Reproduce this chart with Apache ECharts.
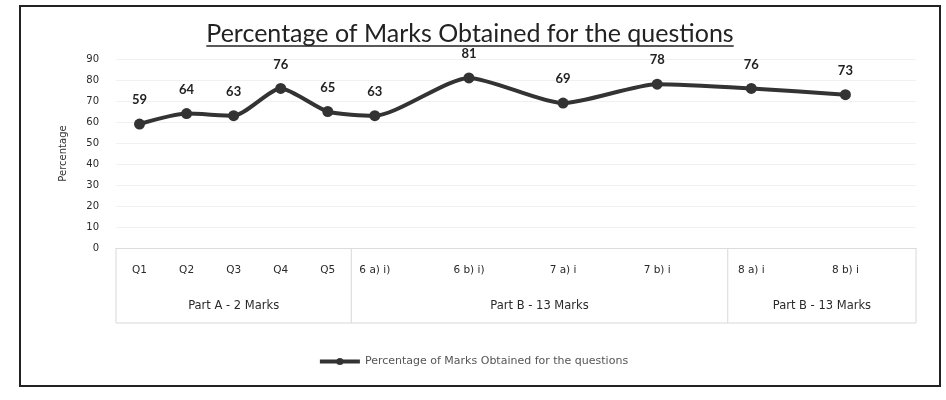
<!DOCTYPE html>
<html>
<head>
<meta charset="utf-8">
<script src="https://cdn.jsdelivr.net/npm/echarts@6/dist/echarts.min.js"></script>
<style>html,body{margin:0;padding:0;background:#fff}#c{width:946px;height:400px}</style>
</head>
<body>
<div id="c"></div>
<script>
const titleText = 'Percentage of Marks Obtained for the questions';
const seriesName = 'Percentage of Marks Obtained for the questions';
const categories = ['Q1','Q2','Q3','Q4','Q5','6 a) i)','','6 b) i)','','7 a) i','','7 b) i','','8 a) i','','8 b) i',''];
const values = [59,64,63,76,65,63,null,81,null,69,null,78,null,76,null,73,null];
const yTicks = [0,10,20,30,40,50,60,70,80,90];
const groupNames = ['Part A - 2 Marks','Part B - 13 Marks','Part B - 13 Marks'];
const groupStart = [0,5,13];
const groupEnd = [4,12,16];

const FONT = 'Lato';
const SMALL = 'DejaVu Sans';
const chart = echarts.init(document.getElementById('c'), null, {renderer:'canvas'});

const GRID = {left:116, right:30, top:59, bottom:152};

chart.setOption({
  animation:false,
  backgroundColor:'#ffffff',
  grid:{left:GRID.left, right:GRID.right, top:GRID.top, bottom:GRID.bottom, containLabel:false},
  xAxis:{
    type:'category', data:categories, boundaryGap:true,
    axisLine:{show:true, lineStyle:{color:'#dcdcdc', width:1}},
    axisTick:{show:false},
    axisLabel:{interval:0, color:'#2a2a2a', fontFamily:SMALL, fontSize:10.5, margin:17}
  },
  yAxis:{
    type:'value', min:yTicks[0], max:yTicks[yTicks.length-1], interval:10,
    name:'Percentage', nameLocation:'middle', nameGap:48,
    nameTextStyle:{color:'#333', fontFamily:SMALL, fontSize:10},
    axisLine:{show:false}, axisTick:{show:false},
    axisLabel:{color:'#2a2a2a', fontFamily:SMALL, fontSize:10, margin:17},
    splitLine:{show:true, lineStyle:{color:'#f0f0f0', width:1}}
  },
  legend:{
    show:true, bottom:28, left:'center', itemWidth:40, itemHeight:9, itemGap:4,
    textStyle:{color:'#555', fontFamily:SMALL, fontSize:11},
    lineStyle:{width:4},
    data:[seriesName]
  },
  series:[{
    name:seriesName, type:'line', data:values, smooth:0.22, connectNulls:true,
    symbol:'circle', symbolSize:11,
    lineStyle:{color:'#333', width:4},
    itemStyle:{color:'#333'},
    label:{show:true, position:'top', distance:12, color:'#222', fontFamily:FONT, fontSize:13, fontWeight:'bold'}
  }]
});

function drawDecor(){
  const els = [];
  els.push({type:'rect', shape:{x:20, y:6, width:920, height:380}, style:{fill:null, stroke:'#222', lineWidth:2}, silent:true});
  const ctx = document.createElement('canvas').getContext('2d');
  const tfont = '25px ' + FONT;
  ctx.font = tfont;
  const tw = ctx.measureText(titleText).width;
  const tcx = 470;
  els.push({type:'text', x:tcx, y:21, style:{text:titleText, font:tfont, fill:'#222', textAlign:'center', textVerticalAlign:'top'}, silent:true});
  els.push({type:'line', shape:{x1:tcx - tw/2, y1:46, x2:tcx + tw/2, y2:46}, style:{stroke:'#222', lineWidth:1.5}, silent:true});
  const c0 = chart.convertToPixel({xAxisIndex:0}, 0);
  const c1 = chart.convertToPixel({xAxisIndex:0}, 1);
  const w = c1 - c0;
  const yTop = chart.convertToPixel({yAxisIndex:0}, 0);
  const yBot = yTop + 75;
  const lineStyle = {stroke:'#d8d8d8', lineWidth:1};
  const leftEdge = c0 - w/2, rightEdge = c0 + (groupEnd[groupEnd.length-1] + 0.5) * w;
  els.push({type:'line', shape:{x1:leftEdge, y1:yBot, x2:rightEdge, y2:yBot}, style:lineStyle, silent:true});
  for (let g = 0; g < groupNames.length; g++) {
    const xs = chart.convertToPixel({xAxisIndex:0}, groupStart[g]) - w/2;
    const xe = chart.convertToPixel({xAxisIndex:0}, groupEnd[g]) + w/2;
    els.push({type:'line', shape:{x1:xs, y1:yTop, x2:xs, y2:yBot}, style:lineStyle, silent:true});
    if (g === groupNames.length - 1) els.push({type:'line', shape:{x1:xe, y1:yTop, x2:xe, y2:yBot}, style:lineStyle, silent:true});
    els.push({type:'text', x:(xs+xe)/2, y:yTop + 58, style:{text:groupNames[g], font:'11.5px ' + SMALL, fill:'#2a2a2a', textAlign:'center', textVerticalAlign:'middle'}, silent:true});
  }
  chart.setOption({graphic:{elements:els}});
}
drawDecor();
</script>
</body>
</html>
